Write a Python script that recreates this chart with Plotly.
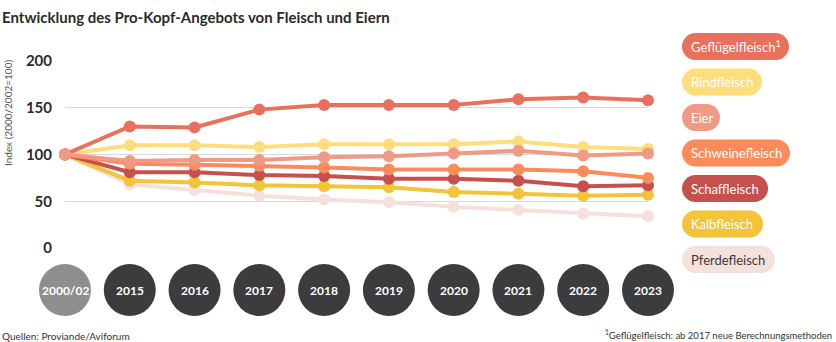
import plotly.graph_objects as go

# Index values (2000/2002 = 100)
years = ["2000/02", "2015", "2016", "2017", "2018", "2019", "2020", "2021", "2022", "2023"]

gefluegel = [100, 130, 129, 148, 153, 153, 153, 159, 161, 158]
rind = [100, 110, 110, 108, 111, 111, 111, 114, 108, 106]
eier = [100, 93, 94, 94, 97, 98, 101, 104, 99, 101]
schwein = [100, 90, 89, 88, 86, 84, 84, 84, 82, 75]
schaf = [100, 81, 81, 78, 77, 74, 74, 72, 66, 67]
kalb = [100, 72, 70, 67, 66, 65, 60, 58, 56, 57]
pferd = [100, 68, 62, 56, 52, 49, 44, 41, 37, 34]

series_names = ["Geflügelfleisch", "Rindfleisch", "Eier", "Schweinefleisch",
                "Schaffleisch", "Kalbfleisch", "Pferdefleisch"]
legend_labels = ["Geflügelfleisch<sup>1</sup>", "Rindfleisch", "Eier", "Schweinefleisch",
                 "Schaffleisch", "Kalbfleisch", "Pferdefleisch"]
series_values = [gefluegel, rind, eier, schwein, schaf, kalb, pferd]
colors = ["#E8705C", "#FFDD7C", "#F09A86", "#FB8B5A", "#C6504E", "#F3C338", "#F5E1DB"]
text_colors = ["white"] * 6 + ["#3A3A3A"]
pill_widths = [107, 80, 38, 108, 86, 81, 93]

FONT = "Lato, Roboto, sans-serif"

# plot area geometry in pixels
W, H = 836, 342
L, R, T, B = 65, 188, 61, 94
PW, PH = W - L - R, H - T - B

fig = go.Figure()

xs = list(range(len(years)))
draw_order = [6, 5, 4, 3, 1, 0, 2]
for i in draw_order:
    fig.add_trace(go.Scatter(
        x=xs, y=series_values[i], name=series_names[i], mode="lines+markers",
        line=dict(color=colors[i], width=4),
        marker=dict(color=colors[i], size=12),
        cliponaxis=False, showlegend=False,
        hovertemplate="%{y}<extra>" + series_names[i] + "</extra>",
    ))

shapes = []
annotations = []

def py_to_paper(py):
    return (H - B - py) / PH

def px_to_paper(px):
    return (px - L) / PW

# year discs under the x axis
n = len(years)
for k, yr in enumerate(years):
    cx = k / (n - 1)
    shapes.append(dict(
        type="circle", xref="paper", yref="paper",
        xsizemode="pixel", ysizemode="pixel",
        xanchor=cx, yanchor=py_to_paper(290),
        x0=-26, x1=26, y0=-26, y1=26,
        fillcolor="#8E8E8E" if k == 0 else "#3C3C3E",
        line=dict(width=0), layer="above",
    ))
    annotations.append(dict(
        x=cx, y=py_to_paper(290), xref="paper", yref="paper",
        text="<b>" + yr + "</b>", showarrow=False,
        font=dict(family=FONT, size=12, color="white"),
        xanchor="center", yanchor="middle",
    ))

# rounded legend pills
def pill_path(w, h):
    r = h / 2
    k = 0.5523 * r
    return (f"M {r},{-r} L {w - r},{-r} "
            f"C {w - r + k},{-r} {w},{-k} {w},0 "
            f"C {w},{k} {w - r + k},{r} {w - r},{r} "
            f"L {r},{r} "
            f"C {r - k},{r} 0,{k} 0,0 "
            f"C 0,{-k} {r - k},{-r} {r},{-r} Z")

for i, lab in enumerate(legend_labels):
    cy = 46.5 + i * 35.5
    shapes.append(dict(
        type="path", xref="paper", yref="paper",
        xsizemode="pixel", ysizemode="pixel",
        xanchor=px_to_paper(682), yanchor=py_to_paper(cy),
        path=pill_path(pill_widths[i], 27),
        fillcolor=colors[i], line=dict(width=0),
    ))
    annotations.append(dict(
        x=px_to_paper(689), y=py_to_paper(cy), xref="paper", yref="paper",
        text=lab, showarrow=False, xanchor="left", yanchor="middle",
        font=dict(family=FONT, size=13, color=text_colors[i]),
    ))

# title, axis caption and footnotes
annotations += [
    dict(x=px_to_paper(0), y=py_to_paper(17), xref="paper", yref="paper",
         text="<b>Entwicklung des Pro-Kopf-Angebots von Fleisch und Eiern</b>",
         showarrow=False, xanchor="left", yanchor="middle",
         font=dict(family=FONT, size=15, color="#2B2B2B")),
    dict(x=px_to_paper(8), y=py_to_paper(113), xref="paper", yref="paper",
         text="Index (2000/2002=100)", textangle=-90, showarrow=False,
         xanchor="center", yanchor="middle",
         font=dict(family=FONT, size=10, color="#555555")),
    dict(x=px_to_paper(0), y=py_to_paper(336), xref="paper", yref="paper",
         text="Quellen: Proviande/Aviforum", showarrow=False,
         xanchor="left", yanchor="middle",
         font=dict(family=FONT, size=10, color="#333333")),
    dict(x=px_to_paper(834), y=py_to_paper(334), xref="paper", yref="paper",
         text="<sup>1</sup>Geflügelfleisch: ab 2017 neue Berechnungsmethoden",
         showarrow=False, xanchor="right", yanchor="middle",
         font=dict(family=FONT, size=9.5, color="#333333")),
]

fig.update_layout(
    width=W, height=H,
    margin=dict(l=L, r=R, t=T, b=B, autoexpand=False),
    paper_bgcolor="white", plot_bgcolor="white",
    shapes=shapes, annotations=annotations,
    xaxis=dict(range=[0, n - 1], showgrid=False, zeroline=False,
               showticklabels=False, fixedrange=True),
    yaxis=dict(range=[0, 200], tickvals=[0, 50, 100, 150, 200],
               showgrid=True, gridcolor="#D9D9D9", gridwidth=1,
               zeroline=False, ticks="", ticklabelstandoff=12,
               tickfont=dict(family=FONT, size=15, color="#2B2B2B", weight="bold"),
               fixedrange=True),
    showlegend=False,
)

fig.write_html("out.html")
